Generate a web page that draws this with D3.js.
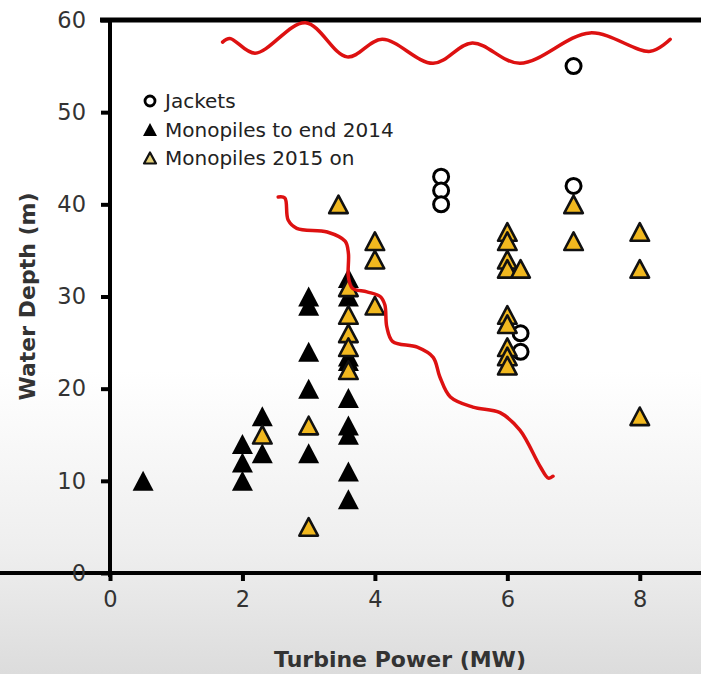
<!DOCTYPE html>
<html>
<head>
<meta charset="utf-8">
<script src="https://cdn.jsdelivr.net/npm/d3@7"></script>
<style>
  html, body { margin: 0; padding: 0; }
  body {
    width: 701px; height: 674px; overflow: hidden;
    background: linear-gradient(to bottom, #ffffff 0%, #ffffff 55%, #eeeeee 82%, #dcdcdc 100%);
  }
  svg { display: block; }
  .tick text { font-family: "DejaVu Sans", sans-serif; font-size: 22.5px; fill: #333; }
</style>
</head>
<body>
<svg id="chart"></svg>
<script>
// x: turbine power (MW), y: water depth (m)
const jacketPower = [5, 5, 5, 6.2, 6.2, 7, 7];
const jacketDepth = [43, 41.5, 40, 26, 24, 55, 42];

const mono14Power = [0.5, 2, 2, 2, 2.3, 2.3, 3, 3, 3, 3, 3,
                     3.6, 3.6, 3.6, 3.6, 3.6, 3.6, 3.6, 3.6, 3.6];
const mono14Depth = [10, 14, 12, 10, 17, 13, 30, 29, 24, 20, 13,
                     32, 30, 23.5, 23, 19, 16, 15, 11, 8];

const mono15Power = [2.3, 3, 3, 3.45, 3.6, 3.6, 3.6, 3.6, 3.6, 4, 4, 4,
                     6, 6, 6, 6, 6, 6, 6, 6, 6, 6.2, 7, 7, 8, 8, 8];
const mono15Depth = [15, 16, 5, 40, 31, 28, 26, 24.5, 22, 36, 34, 29,
                     37, 36, 34, 33, 28, 27, 24.5, 23.5, 22.5, 33, 40, 36, 37, 33, 17];

// hand drawn red annotation lines (in data units)
const waveX = [1.70, 1.81, 2.19, 2.95, 3.58, 4.11, 4.88, 5.47, 6.19, 7.25, 8.16, 8.46];
const waveY = [57.6, 58.0, 56.4, 59.7, 56.0, 57.9, 55.3, 57.5, 55.3, 58.6, 56.6, 57.9];

const limitX = [2.54, 2.64, 2.69, 2.82, 3.28, 3.55, 3.60, 3.60, 3.66, 3.88, 4.08, 4.15,
                4.18, 4.27, 4.64, 4.88, 4.98, 5.14, 5.48, 5.89, 6.19, 6.50, 6.62, 6.69];
const limitY = [40.8, 40.7, 38.3, 37.4, 37.0, 36.0, 34.7, 32.1, 30.9, 30.5, 30.0, 29.1,
                26.7, 25.1, 24.5, 23.4, 21.3, 19.1, 18.0, 17.4, 15.5, 11.5, 10.3, 10.5];

const xTicks = [0, 2, 4, 6, 8];
const yTicks = [0, 10, 20, 30, 40, 50, 60];

const legendLabels = ["Jackets", "Monopiles to end 2014", "Monopiles 2015 on"];

const width = 701, height = 674;
const yellow = "#f1b81f";

const svg = d3.select("#chart").attr("width", width).attr("height", height);

const x = d3.scaleLinear().domain([0, 9]).range([110, 706]);
const y = d3.scaleLinear().domain([0, 60]).range([573, 20]);

// triangle path centred on its vertical middle
function tri(h, w) {
  return `M0,${-h}L${w},${h}L${-w},${h}Z`;
}

// axes
const xAxis = svg.append("g")
  .attr("transform", `translate(0,${y(0)})`)
  .call(d3.axisBottom(x).tickValues(xTicks).tickSize(8).tickSizeOuter(0).tickPadding(10));

const yAxis = svg.append("g")
  .attr("transform", `translate(${x(0)},0)`)
  .call(d3.axisLeft(y).tickValues(yTicks).tickSize(9).tickSizeOuter(0).tickPadding(15));

svg.selectAll(".domain").attr("stroke", "#000").attr("stroke-width", 4).attr("stroke-linecap", "square");
svg.selectAll(".tick line").attr("stroke", "#000").attr("stroke-width", 4);
yAxis.select(".domain").attr("d", `M0,${y(60)}V${y(0) + 2}`);
xAxis.select(".domain").attr("d", `M-2,0H${x(9)}`);

// top frame line
svg.append("line")
  .attr("x1", x(0) - 10).attr("x2", x(9))
  .attr("y1", y(60)).attr("y2", y(60))
  .attr("stroke", "#000").attr("stroke-width", 5);

// axis titles
svg.append("text")
  .attr("x", 400).attr("y", 667)
  .attr("text-anchor", "middle")
  .style("font-family", "DejaVu Sans, sans-serif").style("font-weight", "bold")
  .style("font-size", "22px").style("fill", "#333")
  .text("Turbine Power (MW)");

svg.append("text")
  .attr("transform", `translate(35,${y(30)}) rotate(-90)`)
  .attr("text-anchor", "middle")
  .style("font-family", "DejaVu Sans, sans-serif").style("font-weight", "bold")
  .style("font-size", "22px").style("fill", "#333")
  .text("Water Depth (m)");

// jackets
svg.append("g").selectAll("circle")
  .data(d3.range(jacketPower.length))
  .join("circle")
    .attr("cx", i => x(jacketPower[i]))
    .attr("cy", i => y(jacketDepth[i]))
    .attr("r", 7.5)
    .attr("fill", "#fff")
    .attr("stroke", "#000")
    .attr("stroke-width", 3);

// monopiles to end 2014
svg.append("g").selectAll("path")
  .data(d3.range(mono14Power.length))
  .join("path")
    .attr("transform", i => `translate(${x(mono14Power[i])},${y(mono14Depth[i])})`)
    .attr("d", tri(10, 10.5))
    .attr("fill", "#000");

// monopiles 2015 on
svg.append("g").selectAll("path")
  .data(d3.range(mono15Power.length))
  .join("path")
    .attr("transform", i => `translate(${x(mono15Power[i])},${y(mono15Depth[i])})`)
    .attr("d", tri(8.8, 9.3))
    .attr("fill", yellow)
    .attr("stroke", "#111")
    .attr("stroke-width", 2.6)
    .attr("stroke-linejoin", "round");

// red annotation lines
const line = d3.line()
  .x(d => x(d[0]))
  .y(d => y(d[1]))
  .curve(d3.curveCatmullRom.alpha(0.5));

[[waveX, waveY], [limitX, limitY]].forEach(([xs, ys]) => {
  svg.append("path")
    .datum(xs.map((v, i) => [v, ys[i]]))
    .attr("d", line)
    .attr("fill", "none")
    .attr("stroke", "#dd1111")
    .attr("stroke-width", 3.5)
    .attr("stroke-linecap", "round")
    .attr("stroke-linejoin", "round");
});

// legend
const legend = svg.append("g").attr("transform", "translate(150,101)");
const rowH = 28.5;
legend.append("circle").attr("r", 5).attr("fill", "#fff").attr("stroke", "#000").attr("stroke-width", 2.8);
legend.append("path").attr("transform", `translate(0,${rowH})`).attr("d", tri(6.5, 7)).attr("fill", "#000");
legend.append("path").attr("transform", `translate(0,${rowH * 2})`).attr("d", tri(5.5, 6))
  .attr("fill", "#e3cf7a").attr("stroke", "#111").attr("stroke-width", 2.2).attr("stroke-linejoin", "round");

legend.selectAll("text")
  .data(legendLabels)
  .join("text")
    .attr("x", 15)
    .attr("y", (d, i) => i * rowH + 7)
    .style("font-family", "DejaVu Sans, sans-serif")
    .style("font-size", "20px")
    .style("fill", "#222")
    .text(d => d);
</script>
</body>
</html>
